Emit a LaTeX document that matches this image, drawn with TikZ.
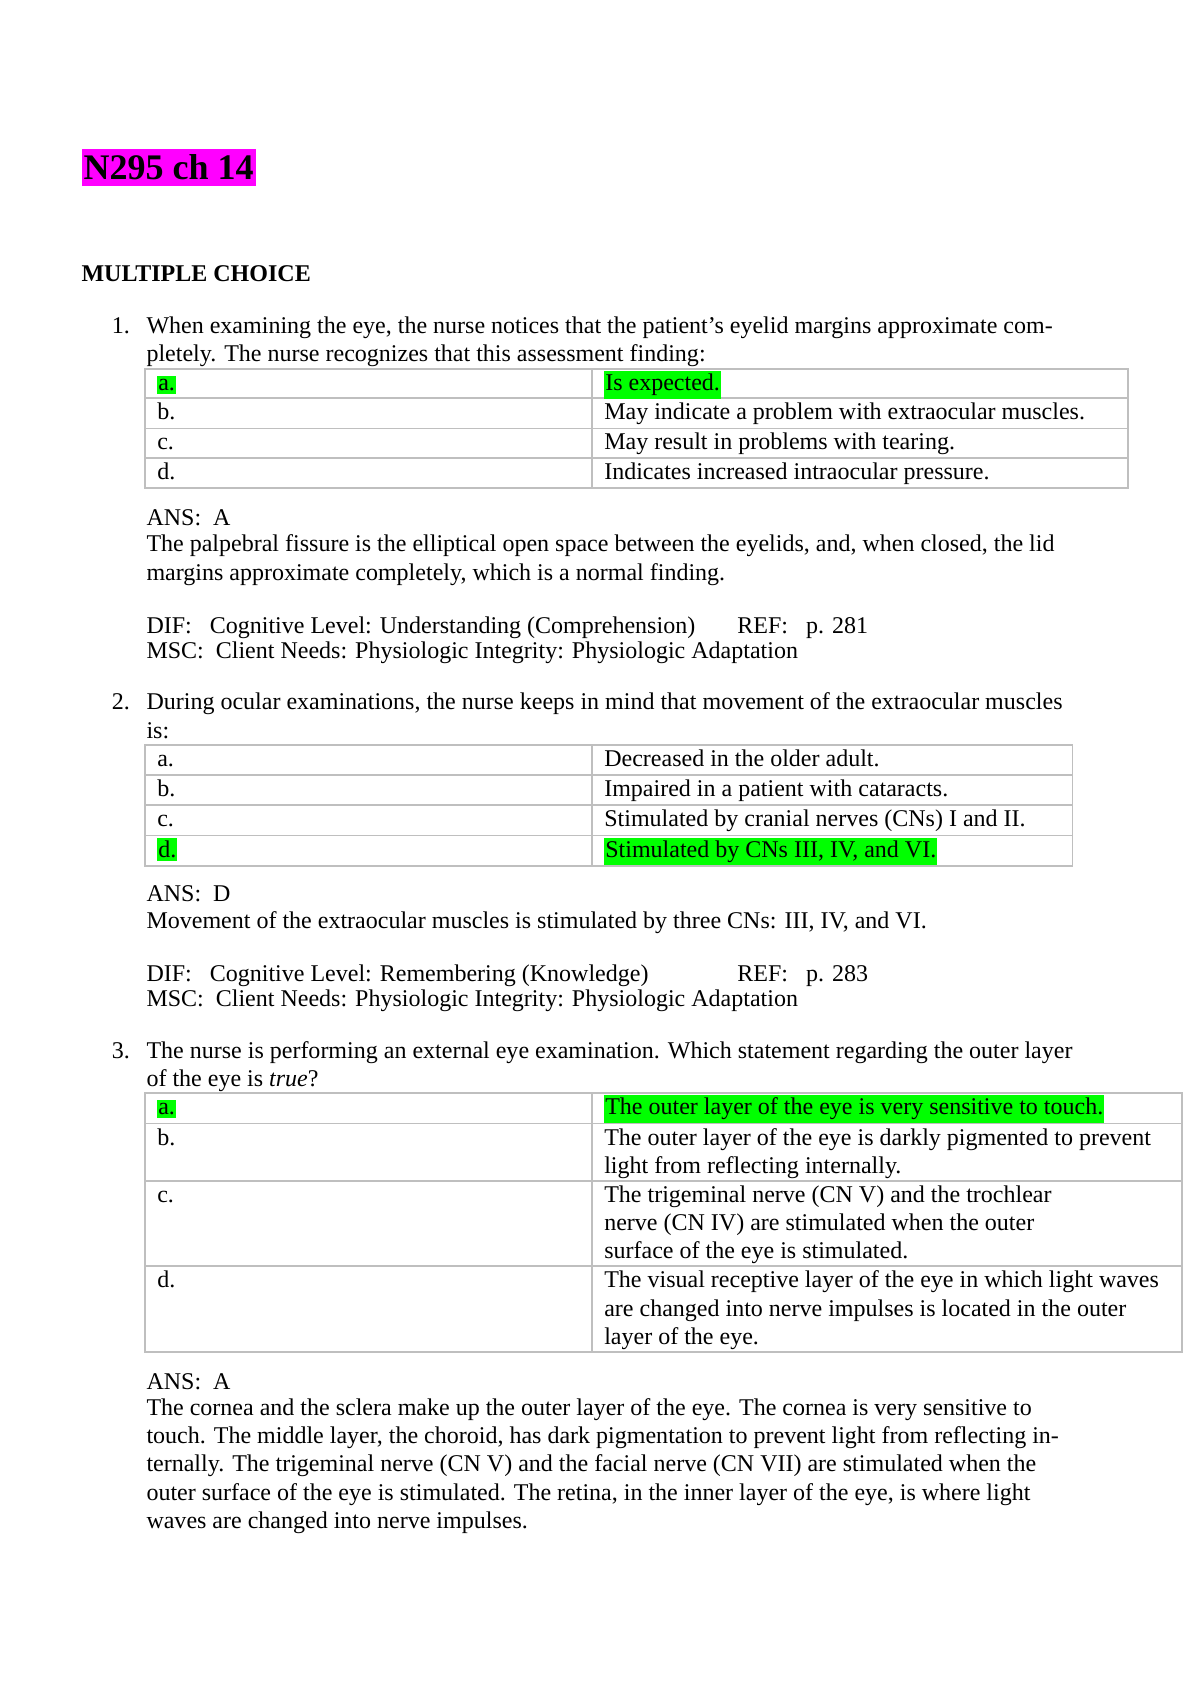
\documentclass[tikz,border=0pt]{standalone}
\usepackage{fontspec}
\setmainfont{Liberation Serif}
\definecolor{hlgreen}{HTML}{00FF00}
\definecolor{hlmag}{HTML}{FF00FF}
\begin{document}
\begin{tikzpicture}[x=0.541pt,y=-0.541pt,
  txt/.style={anchor=base west,inner sep=0pt,font=\fontsize{12}{14}\selectfont},
  hl/.style={txt,fill=hlgreen,inner ysep=1.5pt,inner xsep=0.5pt},
  cell/.style={draw=black!25,line width=0.9pt}]
\useasboundingbox (0,0) rectangle (1100,1556);
\node[anchor=base west,fill=hlmag,inner xsep=1pt,inner ysep=3pt,font=\bfseries\fontsize{18}{20}\selectfont] (title) at (75,166) {N295 ch 14};
\node[txt,font=\bfseries\fontsize{12}{14}\selectfont] (mc) at (75,260) {MULTIPLE CHOICE};
% Q1
\node[txt] (q1n) at (103,308) {1.};
\node[txt] (q1a) at (135,308) {When examining the eye, the nurse notices that the patient’s eyelid margins approximate com-};
\node[txt] (q1b) at (135,334) {pletely. The nurse recognizes that this assessment finding:};
\foreach \t/\b in {341/368,368/396,396/423,423/451}{
  \draw[cell] (134,\t) rectangle (547,\b); \draw[cell] (547,\t) rectangle (1042,\b);}
\node[hl] (t1a) at (145,361) {a.};
\node[hl] (t1aa) at (558,361) {Is expected.};
\node[txt] (t1b) at (145,388) {b.};
\node[txt] (t1bb) at (558,388) {May indicate a problem with extraocular muscles.};
\node[txt] (t1c) at (145,415) {c.};
\node[txt] (t1cc) at (558,415) {May result in problems with tearing.};
\node[txt] (t1d) at (145,443) {d.};
\node[txt] (t1dd) at (558,443) {Indicates increased intraocular pressure.};
\node[txt] (a1) at (135,486) {ANS:\ \ A};
\node[txt] (e1a) at (135,510) {The palpebral fissure is the elliptical open space between the eyelids, and, when closed, the lid};
\node[txt] (e1b) at (135,536) {margins approximate completely, which is a normal finding.};
\node[txt] (d1) at (135,585) {DIF:\ \ \ Cognitive Level: Understanding (Comprehension)};
\node[txt] (r1) at (681,585) {REF:\ \ \ p. 281};
\node[txt] (m1) at (135,608) {MSC:\ \ Client Needs: Physiologic Integrity: Physiologic Adaptation};
% Q2
\node[txt] (q2n) at (103,656) {2.};
\node[txt] (q2a) at (135,656) {During ocular examinations, the nurse keeps in mind that movement of the extraocular muscles};
\node[txt] (q2b) at (135,682) {is:};
\foreach \t/\b in {688/716,716/744,744/772,772/800}{
  \draw[cell] (134,\t) rectangle (547,\b); \draw[cell] (547,\t) rectangle (991,\b);}
\node[txt] (t2a) at (145,708) {a.};
\node[txt] (t2aa) at (558,708) {Decreased in the older adult.};
\node[txt] (t2b) at (145,736) {b.};
\node[txt] (t2bb) at (558,736) {Impaired in a patient with cataracts.};
\node[txt] (t2c) at (145,764) {c.};
\node[txt] (t2cc) at (558,764) {Stimulated by cranial nerves (CNs) I and II.};
\node[hl] (t2d) at (145,792) {d.};
\node[hl] (t2dd) at (558,792) {Stimulated by CNs III, IV, and VI.};
\node[txt] (a2) at (135,833) {ANS:\ \ D};
\node[txt] (e2) at (135,858) {Movement of the extraocular muscles is stimulated by three CNs: III, IV, and VI.};
\node[txt] (d2) at (135,907) {DIF:\ \ \ Cognitive Level: Remembering (Knowledge)};
\node[txt] (r2) at (681,907) {REF:\ \ \ p. 283};
\node[txt] (m2) at (135,930) {MSC:\ \ Client Needs: Physiologic Integrity: Physiologic Adaptation};
% Q3
\node[txt] (q3n) at (103,978) {3.};
\node[txt] (q3a) at (135,978) {The nurse is performing an external eye examination. Which statement regarding the outer layer};
\node[txt] (q3b) at (135,1004) {of the eye is \textit{true}?};
\foreach \t/\b in {1010/1038,1038/1091,1091/1170,1170/1249}{
  \draw[cell] (134,\t) rectangle (547,\b); \draw[cell] (547,\t) rectangle (1092,\b);}
\node[hl] (t3a) at (145,1030) {a.};
\node[hl] (t3aa) at (558,1030) {The outer layer of the eye is very sensitive to touch.};
\node[txt] (t3b) at (145,1058) {b.};
\node[txt] (t3b1) at (558,1058) {The outer layer of the eye is darkly pigmented to prevent};
\node[txt] (t3b2) at (558,1084) {light from reflecting internally.};
\node[txt] (t3c) at (145,1111) {c.};
\node[txt] (t3c1) at (558,1111) {The trigeminal nerve (CN V) and the trochlear};
\node[txt] (t3c2) at (558,1137) {nerve (CN IV) are stimulated when the outer};
\node[txt] (t3c3) at (558,1163) {surface of the eye is stimulated.};
\node[txt] (t3d) at (145,1190) {d.};
\node[txt] (t3d1) at (558,1190) {The visual receptive layer of the eye in which light waves};
\node[txt] (t3d2) at (558,1216) {are changed into nerve impulses is located in the outer};
\node[txt] (t3d3) at (558,1242) {layer of the eye.};
\node[txt] (a3) at (135,1284) {ANS:\ \ A};
\node[txt] (e3a) at (135,1308) {The cornea and the sclera make up the outer layer of the eye. The cornea is very sensitive to};
\node[txt] (e3b) at (135,1334) {touch. The middle layer, the choroid, has dark pigmentation to prevent light from reflecting in-};
\node[txt] (e3c) at (135,1360) {ternally. The trigeminal nerve (CN V) and the facial nerve (CN VII) are stimulated when the};
\node[txt] (e3d) at (135,1386) {outer surface of the eye is stimulated. The retina, in the inner layer of the eye, is where light};
\node[txt] (e3e) at (135,1412) {waves are changed into nerve impulses.};
\end{tikzpicture}
\end{document}
